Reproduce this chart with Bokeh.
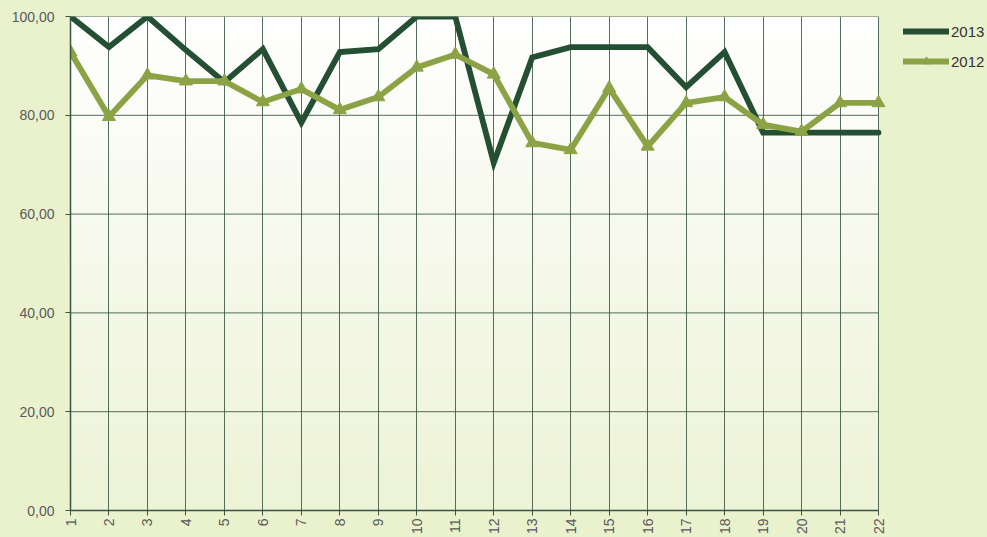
import numpy as np
from bokeh.plotting import figure
from bokeh.models import (FixedTicker, CustomJSTickFormatter, Legend, LegendItem, Range1d)
from bokeh.embed import file_html
from bokeh.resources import INLINE

# ---- data ----
points = list(range(1, 23))
series_2013 = [100.0, 93.8, 100.0, 93.2, 86.7, 93.4, 78.5, 92.8, 93.4, 100.0, 100.0,
               70.4, 91.7, 93.8, 93.8, 93.8, 85.7, 92.8, 76.5, 76.5, 76.5, 76.5]
series_2012 = [92.8, 79.7, 88.1, 86.9, 86.9, 82.7, 85.3, 81.1, 83.7, 89.7, 92.3,
               88.3, 74.4, 73.0, 85.5, 73.7, 82.5, 83.7, 78.1, 76.7, 82.5, 82.5]
y_ticks = [0, 20, 40, 60, 80, 100]
labels = ["2013", "2012"]

OUTER = "#EAF1CD"
DARK = "#244F33"
LIGHT = "#8BA345"
GRID = "#3A5442"

x_start, x_end = points[0], points[-1]
# frame extends to the right edge so the legend can sit beside the chart
x_extra = 109 / ((878 - 70) / (x_end - x_start))

p = figure(width=987, height=537, output_backend="svg", toolbar_location=None,
           x_range=Range1d(x_start, x_end + x_extra), y_range=Range1d(0, 100),
           min_border_left=70, min_border_right=0, min_border_top=16,
           min_border_bottom=24)
p.background_fill_color = OUTER
p.border_fill_color = OUTER
p.outline_line_color = None

# gradient plot background
n = 100
img = np.empty((n, 1), dtype=np.uint32)
view = img.view(dtype=np.uint8).reshape((n, 1, 4))
top = np.array([255, 255, 255])
bot = np.array([0xED, 0xF3, 0xD6])
for i in range(n):
    t = i / (n - 1)  # 0 bottom -> 1 top
    c = bot + (top - bot) * t
    view[i, 0, 0:3] = c.astype(np.uint8)
    view[i, 0, 3] = 255
p.image_rgba(image=[img], x=x_start, y=0, dw=x_end - x_start, dh=100, level="image")

# grids
p.xgrid.ticker = FixedTicker(ticks=points)
p.xgrid.grid_line_color = GRID
p.xgrid.grid_line_alpha = 0.85
p.xgrid.level = "underlay"
p.ygrid.grid_line_color = None
p.segment(x0=x_start, x1=x_end, y0=y_ticks, y1=y_ticks, line_color=GRID,
          line_alpha=0.85, line_width=1, level="underlay")

# axes
p.xaxis.ticker = FixedTicker(ticks=points)
p.xaxis.bounds = (x_start, x_end)
p.yaxis.ticker = FixedTicker(ticks=y_ticks)
p.yaxis.formatter = CustomJSTickFormatter(code="return tick.toFixed(2).replace('.', ',');")
for ax in (p.xaxis, p.yaxis):
    ax.axis_line_color = GRID
    ax.axis_line_width = 1.5
    ax.major_tick_line_color = GRID
    ax.major_tick_out = 5
    ax.major_tick_in = 0
    ax.minor_tick_line_color = None
    ax.major_label_text_font = "Liberation Sans"
    ax.major_label_text_color = "#5A5A5A"
p.yaxis.major_label_text_font_size = "14px"
p.yaxis.major_label_standoff = 11
p.xaxis.major_label_text_font_size = "14px"
p.xaxis.major_label_orientation = np.pi / 2
p.xaxis.major_label_standoff = 3

# lines
r13 = p.line(points, series_2013, line_color=DARK, line_width=5.8,
             line_join="miter", line_cap="round")
r12 = p.line(points, series_2012, line_color=LIGHT, line_width=5.8,
             line_join="miter", line_cap="round")
m12 = p.scatter(points, series_2012, marker="triangle", size=13, fill_color=LIGHT,
                line_color=LIGHT)

legend = Legend(items=[LegendItem(label=labels[0], renderers=[r13]),
                       LegendItem(label=labels[1], renderers=[r12, m12])],
                location=(833, 439), margin=0, padding=0, spacing=10,
                glyph_width=46, glyph_height=20, label_standoff=2,
                label_text_font="Liberation Sans", label_text_font_size="15px",
                label_text_color="#333333", label_text_baseline="middle",
                background_fill_alpha=0, border_line_color=None)
p.add_layout(legend, "center")

html = file_html(p, INLINE)
html = html.replace("</head>", "<style>body{background:#EAF1CD;}</style></head>", 1)
open("out.html", "w").write(html)
